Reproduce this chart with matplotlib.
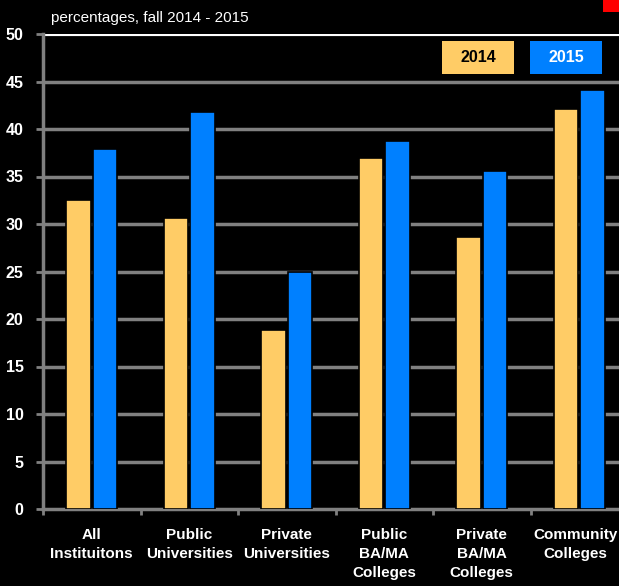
#!/usr/bin/env python3
"""Bar chart: percentages by institution type, fall 2014 vs 2015."""

import matplotlib
matplotlib.use('Agg')
import matplotlib.pyplot as plt
import matplotlib.transforms as mtransforms
from matplotlib.patches import Rectangle
import numpy as np

categories = ['All\nInstituitons', 'Public\nUniversities', 'Private\nUniversities',
	'Public\nBA/MA\nColleges', 'Private\nBA/MA\nColleges', 'Community\nColleges']
values_2014 = [32.5, 30.6, 18.8, 37.0, 28.6, 42.1]
values_2015 = [37.9, 41.8, 24.9, 38.7, 35.6, 44.1]
series_labels = ['2014', '2015']
yticks = [0, 5, 10, 15, 20, 25, 30, 35, 40, 45, 50]

COLORS = {
	'2014': '#FFCC66',
	'2015': '#0080FF',
	'grid': '#808080',
}
FONT = ['Liberation Sans Narrow', 'Liberation Sans', 'DejaVu Sans']

fig = plt.figure(figsize=(6.19, 5.86), dpi=100, facecolor='black')
# axes extends a bit past the right edge of the figure, as in the original
ax = fig.add_axes([43/619, 1 - 509/586, 585/619, 475/586])
ax.set_facecolor('black')

x = np.arange(len(categories))
width = 0.25
off = 0.137
ax.bar(x - off, values_2014, width, color=COLORS['2014'], edgecolor='black', linewidth=1.2, zorder=3)
ax.bar(x + off, values_2015, width, color=COLORS['2015'], edgecolor='black', linewidth=1.2, zorder=3)

ax.set_xlim(-0.5, len(categories) - 0.5)
ax.set_ylim(0, 50)
ax.set_yticks(yticks)
ax.set_yticklabels([str(v) for v in yticks], color='white', fontweight='bold', fontsize=11.5, family=FONT)
ax.set_xticks(x)
ax.set_xticklabels(categories, color='white', fontweight='bold', fontsize=11, family=FONT, linespacing=1.45)
ax.set_xticks(np.arange(len(categories) + 1) - 0.5, minor=True)
ax.tick_params(axis='x', which='major', length=0, pad=14)
ax.tick_params(axis='x', which='minor', length=4, width=2, color=COLORS['grid'], direction='out')
ax.tick_params(axis='y', length=5, width=2, color=COLORS['grid'], direction='out', pad=9)

# last label sits against the right edge, nudge it in a little
last = ax.get_xticklabels()[-1]
last.set_transform(last.get_transform() + mtransforms.ScaledTranslation(-4/100, 0, fig.dpi_scale_trans))

# gridlines, the top one is white
for v in yticks[1:-1]:
	ax.axhline(v, color=COLORS['grid'], linewidth=2.5, zorder=1)
ax.axhline(50, color='white', linewidth=3, zorder=1)

for side in ['top', 'right']:
	ax.spines[side].set_visible(False)
ax.spines['left'].set_color(COLORS['grid'])
ax.spines['left'].set_linewidth(2.5)
ax.spines['bottom'].set_color(COLORS['grid'])
ax.spines['bottom'].set_linewidth(2.5)

# legend as colored boxes
fig.patches.append(Rectangle((442/619, 1 - 74/586), 72/619, 33/586, transform=fig.transFigure,
	facecolor=COLORS['2014'], edgecolor='none'))
fig.patches.append(Rectangle((530/619, 1 - 74/586), 72/619, 33/586, transform=fig.transFigure,
	facecolor=COLORS['2015'], edgecolor='none'))
fig.text(478/619, 1 - 57.5/586, series_labels[0], color='black', fontweight='bold', fontsize=11.5,
	family=FONT, ha='center', va='center')
fig.text(566/619, 1 - 57.5/586, series_labels[1], color='white', fontweight='bold', fontsize=11.5,
	family=FONT, ha='center', va='center')

fig.text(51/619, 1 - 18/586, 'percentages, fall 2014 - 2015', color='white', fontsize=11,
	family=FONT, ha='left', va='center')

# small red marker in the top right corner
fig.patches.append(Rectangle((603/619, 1 - 12/586), 16/619, 12/586, transform=fig.transFigure,
	facecolor='#FF0000', edgecolor='none'))

plt.savefig('out.png', dpi=100, facecolor='black')
plt.close()
